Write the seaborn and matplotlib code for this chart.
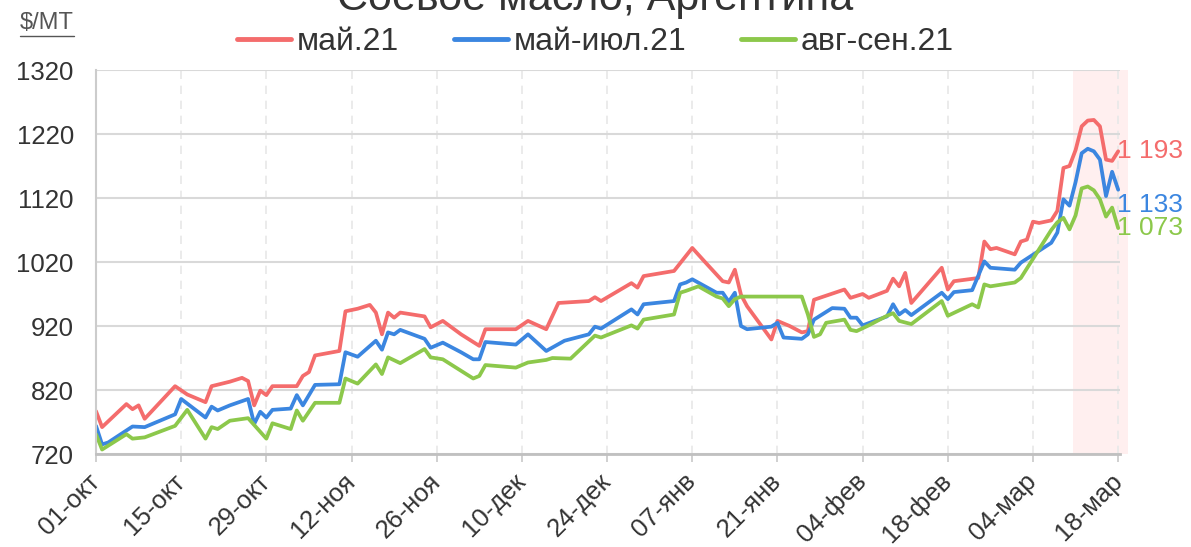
import matplotlib
matplotlib.use("Agg")
import matplotlib.pyplot as plt
import seaborn as sns
import pandas as pd
from matplotlib.lines import Line2D

# ---------------- data ----------------
start_date = "2020-10-01"   # day 0 = 01-окт

series_names = ["май.21", "май-июл.21", "авг-сен.21"]

may_days = [0, 1, 5, 6, 7, 8, 13, 15, 18, 19, 22, 24, 25, 26, 27, 28, 29, 33, 34, 35, 36, 40, 41, 43,
            45, 46, 47, 48, 49, 50, 54, 55, 57, 60, 63, 64, 69, 71, 74, 76, 81, 82, 83, 88, 89, 90,
            95, 98, 100, 103, 104, 105, 106, 107, 111, 112, 114, 116, 117, 118, 123, 124, 126, 127,
            130, 131, 132, 133, 134, 139, 140, 141, 145, 146, 147, 148, 151, 152, 153, 154, 155,
            157, 158, 159, 160, 161, 162, 163, 164, 165, 166, 167, 168]
may_vals = [787, 762, 798, 790, 796, 775, 826, 813, 801, 826, 833, 839, 834, 796, 819, 812, 826, 826,
            842, 848, 874, 881, 943, 947, 953, 941, 907, 941, 933, 941, 935, 918, 928, 907, 889, 915,
            915, 928, 915, 956, 959, 965, 959, 987, 980, 998, 1006, 1042, 1021, 990, 988, 1008, 969,
            951, 899, 928, 920, 910, 912, 961, 977, 964, 970, 964, 975, 994, 982, 1003, 956, 1011,
            977, 990, 995, 1052, 1040, 1042, 1032, 1052, 1055, 1083, 1081, 1085, 1100, 1167, 1170,
            1195, 1232, 1241, 1242, 1232, 1180, 1178, 1193]

jul_days = [0, 1, 2, 6, 8, 13, 14, 18, 19, 20, 22, 25, 26, 27, 28, 29, 32, 33, 34, 36, 40, 41, 43, 46,
            47, 48, 49, 50, 54, 55, 57, 60, 62, 63, 64, 69, 71, 74, 77, 81, 82, 83, 88, 89, 90, 95,
            96, 97, 98, 102, 103, 104, 105, 106, 107, 111, 112, 113, 116, 117, 118, 121, 123, 124,
            125, 126, 130, 131, 132, 133, 134, 139, 140, 141, 144, 146, 147, 151, 152, 157, 158,
            159, 160, 161, 162, 163, 164, 165, 166, 167, 168]
jul_vals = [764, 735, 738, 763, 762, 782, 806, 777, 794, 788, 796, 806, 767, 786, 777, 789, 791, 812,
            796, 828, 829, 879, 872, 897, 883, 910, 907, 914, 900, 886, 894, 879, 868, 868, 895, 891,
            907, 881, 897, 907, 919, 916, 946, 938, 954, 959, 985, 988, 993, 972, 972, 958, 972, 920,
            915, 919, 925, 902, 900, 907, 930, 948, 947, 933, 933, 921, 935, 954, 938, 945, 937, 972,
            962, 973, 976, 1021, 1011, 1008, 1019, 1050, 1066, 1118, 1108, 1145, 1190, 1197, 1193,
            1180, 1123, 1161, 1133]

aug_days = [0, 1, 5, 6, 8, 13, 15, 18, 19, 20, 22, 25, 28, 29, 32, 33, 34, 36, 40, 41, 43, 46, 47, 48,
            50, 54, 55, 57, 60, 62, 63, 64, 69, 71, 74, 75, 78, 82, 83, 88, 89, 90, 95, 96, 97, 99,
            102, 103, 104, 105, 106, 116, 117, 118, 119, 120, 123, 124, 125, 127, 130, 131, 132, 134,
            139, 140, 144, 145, 146, 147, 151, 152, 155, 157, 158, 159, 160, 161, 162, 163, 164, 165,
            166, 167, 168]
aug_vals = [751, 727, 751, 744, 746, 764, 789, 744, 762, 759, 772, 776, 744, 768, 759, 788, 772, 800,
            800, 838, 830, 860, 845, 871, 862, 884, 871, 868, 850, 838, 842, 859, 855, 863, 867, 870,
            869, 905, 902, 921, 916, 930, 938, 972, 975, 982, 966, 963, 951, 962, 966, 966, 938, 903,
            907, 925, 930, 914, 912, 921, 936, 940, 928, 923, 959, 936, 954, 949, 985, 982, 988, 995,
            1040, 1070, 1082, 1089, 1071, 1093, 1135, 1138, 1132, 1118, 1091, 1105, 1073]

last_labels = ["1 193", "1 133", "1 073"]
tick_days = [0, 14, 28, 42, 56, 70, 84, 98, 112, 126, 140, 154, 168]
tick_labels = ["01-окт", "15-окт", "29-окт", "12-ноя", "26-ноя", "10-дек", "24-дек",
               "07-янв", "21-янв", "04-фев", "18-фев", "04-мар", "18-мар"]
y_ticks = [720, 820, 920, 1020, 1120, 1220, 1320]
highlight_days = [160.6, 169.6]
title = "Соевое масло, Аргентина"
unit_label = r"\$/MT"

# ---------------- styling ----------------
colors = ["#F46C6C", "#3B86E0", "#8CC84B"]
label_offsets = [0, -11, 0]   # points, vertical offset of end labels

start = pd.Timestamp(start_date)
frames = []
for name, d, v in zip(series_names, [may_days, jul_days, aug_days], [may_vals, jul_vals, aug_vals]):
    frames.append(pd.DataFrame({"date": start + pd.to_timedelta(d, unit="D"),
                                "value": v, "series": name}))
df = pd.concat(frames, ignore_index=True)

sns.set_theme(style="white")
plt.rcParams["font.family"] = ["Liberation Sans", "DejaVu Sans"]

fig = plt.figure(figsize=(11.91, 5.47), dpi=100)
ax = fig.add_axes([0.0806, 0.170, 0.8598, 0.702])

ax.axvspan(start + pd.Timedelta(days=highlight_days[0]), start + pd.Timedelta(days=highlight_days[1]),
           color="#FFEFEF", zorder=0, lw=0, clip_on=False)

sns.lineplot(data=df, x="date", y="value", hue="series", hue_order=series_names,
             palette=dict(zip(series_names, colors)), linewidth=2.7, ax=ax, legend=False,
             estimator=None)
for ln in ax.get_lines():
    ln.set_solid_joinstyle("round")
    ln.set_solid_capstyle("round")

ax.set_xlim(start, start + pd.Timedelta(days=168.3))
ax.set_ylim(y_ticks[0], y_ticks[-1])
ax.set_xlabel("")
ax.set_ylabel("")

ax.set_yticks(y_ticks)
ax.set_yticklabels([str(t) for t in y_ticks], fontsize=18.5, color="#333333")
ax.set_xticks([start + pd.Timedelta(days=d) for d in tick_days])
ax.set_xticklabels(tick_labels, rotation=45, ha="right", va="center", rotation_mode="anchor",
                   fontsize=18.5, color="#333333")
ax.tick_params(axis="y", length=0, pad=16)
ax.tick_params(axis="x", length=6, width=1.2, color="#c8c8c8", direction="out", pad=11, bottom=True)

ax.yaxis.grid(True, color="#d9d9d9", lw=1.5, ls="-")
ax.xaxis.grid(True, color="#e8e8e8", lw=1.2, ls=(0, (5, 4)))
ax.set_axisbelow(True)

for s in ["top", "right"]:
    ax.spines[s].set_visible(False)
ax.spines["left"].set_color("#cccccc")
ax.spines["left"].set_linewidth(1.5)
ax.spines["bottom"].set_color("#c0c0c0")
ax.spines["bottom"].set_linewidth(2)

# end labels
for name, lab, col, off in zip(series_names, last_labels, colors, label_offsets):
    sub = df[df["series"] == name]
    ax.annotate(lab, xy=(sub["date"].iloc[-1], sub["value"].iloc[-1]), xytext=(-1, off),
                textcoords="offset points", color=col, fontsize=19, ha="left", va="center",
                annotation_clip=False)

# legend
handles = [Line2D([0], [0], color=c, lw=3.5) for c in colors]
fig.legend(handles, series_names, loc="center", bbox_to_anchor=(0.5, 0.923), ncol=3,
           frameon=False, fontsize=23, handlelength=1.7, handletextpad=0.18, columnspacing=1.7,
           labelcolor="#333333")

# title (cut off at top)
fig.text(0.5, 0.982, title, ha="center", va="baseline", fontsize=31, color="#333333")

# unit label with underline
ut = fig.text(20 / 1191, 1 - 29 / 547, unit_label, ha="left", va="baseline", fontsize=17, color="#555555")
fig.canvas.draw()
bb = ut.get_window_extent(renderer=fig.canvas.get_renderer()).transformed(fig.transFigure.inverted())
fig.add_artist(Line2D([bb.x0, bb.x1], [bb.y0 - 0.004, bb.y0 - 0.004], color="#555555", lw=1,
                      transform=fig.transFigure))

fig.savefig("out.png", dpi=100)
